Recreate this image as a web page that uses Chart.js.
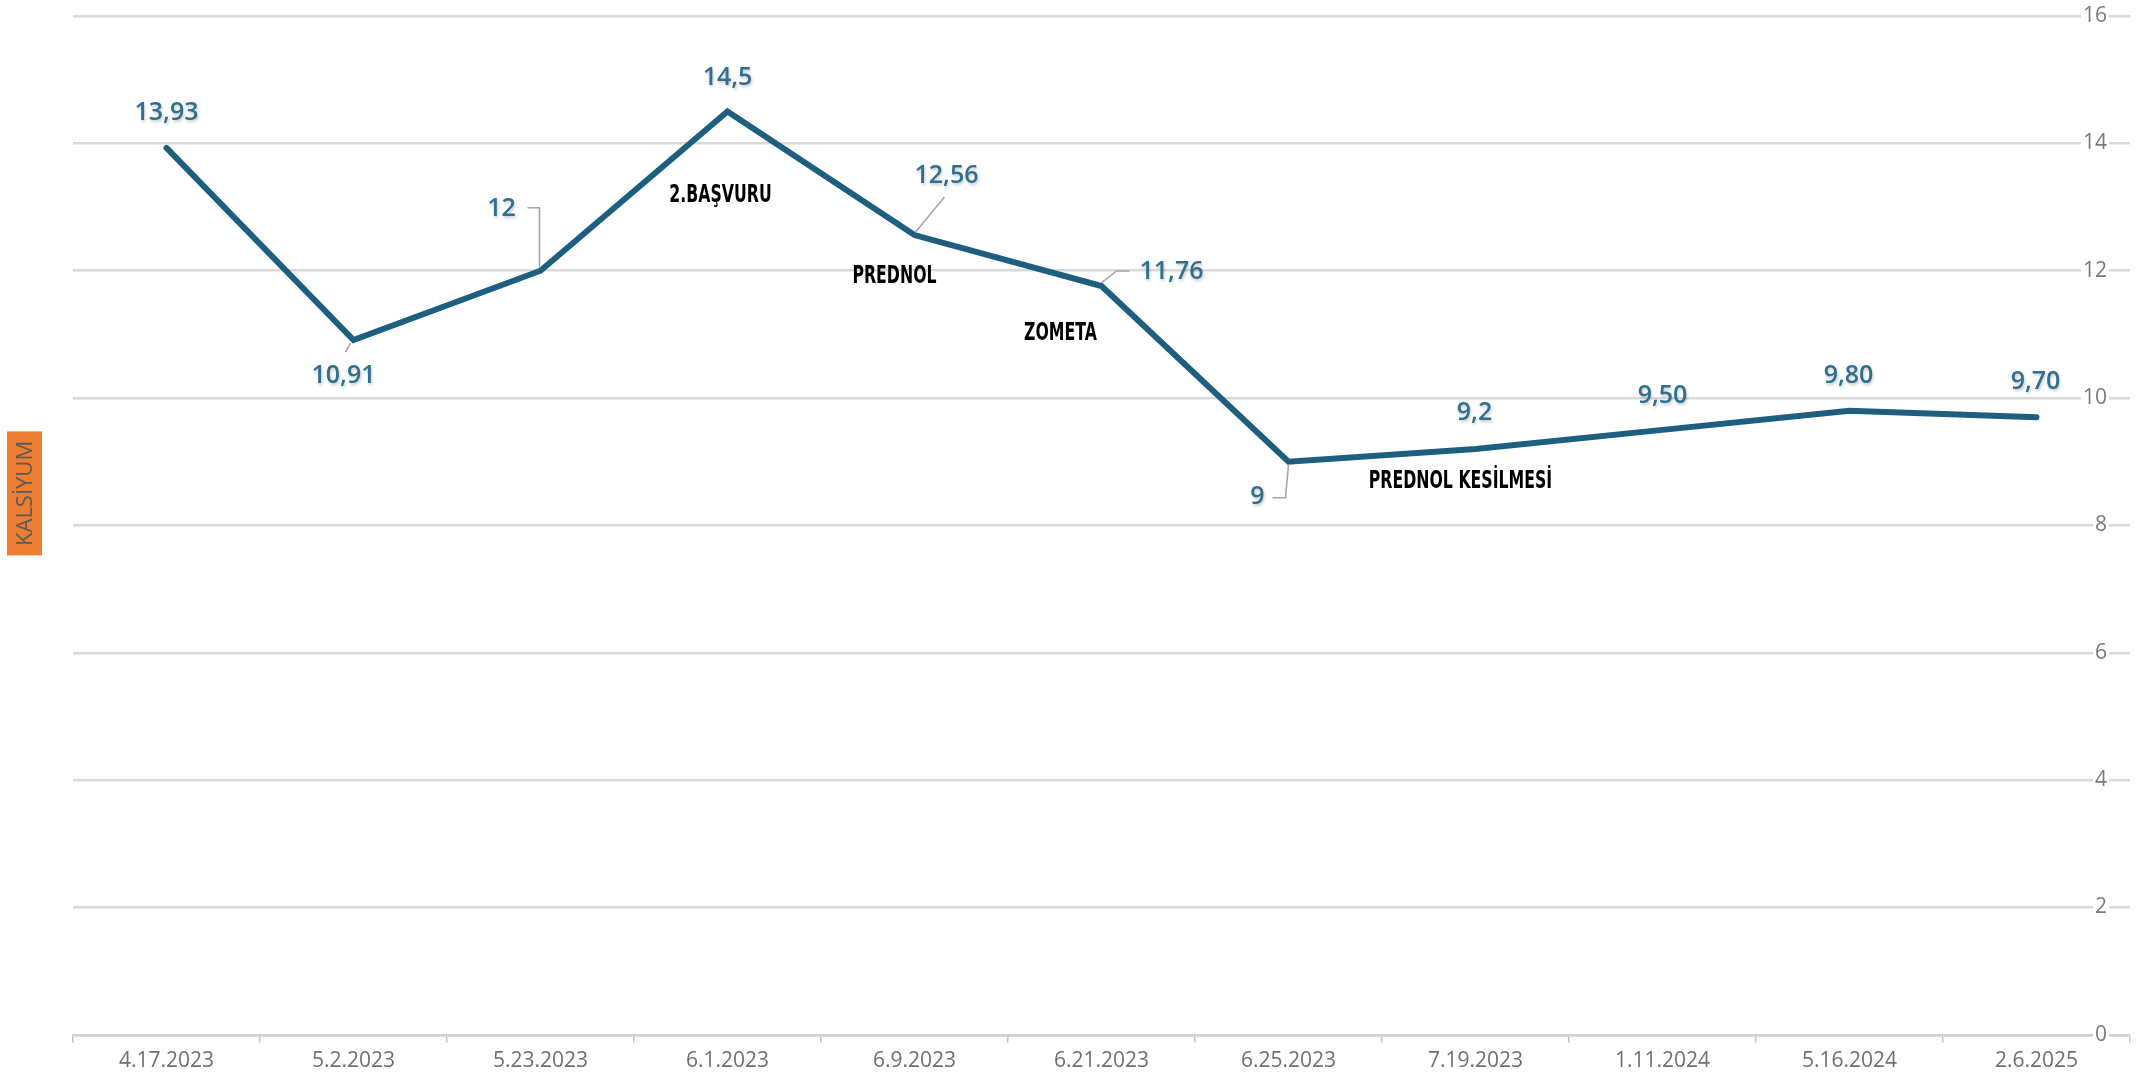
<!DOCTYPE html>
<html>
<head>
<meta charset="utf-8">
<script src="https://cdn.jsdelivr.net/npm/chart.js@4.4.1/dist/chart.umd.min.js"></script>
<style>
  html, body { margin: 0; padding: 0; background: #fff; }
  canvas { display: block; }
</style>
</head>
<body>
<canvas id="calciumChart" width="2144" height="1085"></canvas>
<script>
// ---------- Data ----------
const dates = ['4.17.2023', '5.2.2023', '5.23.2023', '6.1.2023', '6.9.2023', '6.21.2023',
               '6.25.2023', '7.19.2023', '1.11.2024', '5.16.2024', '2.6.2025'];
const calcium = [13.93, 10.91, 12, 14.5, 12.56, 11.76, 9, 9.2, 9.5, 9.8, 9.7];
const valueLabels = ['13,93', '10,91', '12', '14,5', '12,56', '11,76', '9', '9,2', '9,50', '9,80', '9,70'];
const notes = ['', '', '', '2.BAŞVURU', 'PREDNOL', 'ZOMETA', '', 'PREDNOL KESİLMESİ', '', '', ''];
const axisTitle = 'KALSİYUM';
const yMin = 0, yMax = 16, yStep = 2;

// ---------- Placement of the labels (pixels, relative to each point) ----------
const labelPos = [
  { d: [0, -35] },
  { d: [-10, 36], lead: [[-3, 3], [-8, 12]] },
  { d: [-39, -62], lead: [[-13, -63], [-1, -63], [-1, -3]] },
  { d: [0, -34] },
  { d: [32, -59], lead: [[1, -3], [30, -38]] },
  { d: [70, -14], lead: [[0, -3], [15, -15], [28, -15]] },
  { d: [-31, 35], lead: [[-16, 36], [-3, 36], [0, 3]] },
  { d: [-1, -36] },
  { d: [0, -34] },
  { d: [-1, -35] },
  { d: [-1, -35] }
];
const notePos = { 3: [-7, 84], 4: [-20, 41], 5: [-41, 48], 7: [-15, 33] };

const palette = {
  line: '#1e5f7f',
  label: '#2f6f90',
  grid: '#d9d9d9',
  tick: '#7a7a7a',
  leader: '#a6a6a6',
  badge: '#ed7d31',
  badgeText: '#5a5a5a'
};

// ---------- Plugins ----------
const labelsPlugin = {
  id: 'pointLabels',
  afterDatasetsDraw(chart) {
    const ctx = chart.ctx;
    const pts = chart.getDatasetMeta(0).data;
    ctx.save();

    // leader lines
    ctx.strokeStyle = palette.leader;
    ctx.lineWidth = 1.6;
    pts.forEach((p, i) => {
      const lead = labelPos[i].lead;
      if (!lead) return;
      ctx.beginPath();
      lead.forEach(([dx, dy], k) => {
        if (k) ctx.lineTo(p.x + dx, p.y + dy); else ctx.moveTo(p.x + dx, p.y + dy);
      });
      ctx.stroke();
    });

    // value labels
    ctx.textAlign = 'center';
    ctx.textBaseline = 'middle';
    ctx.font = '600 25px "Open Sans", sans-serif';
    ctx.fillStyle = palette.label;
    ctx.shadowColor = 'rgba(0,0,0,.22)';
    ctx.shadowBlur = 3;
    ctx.shadowOffsetX = 1;
    ctx.shadowOffsetY = 2;
    pts.forEach((p, i) => {
      const [dx, dy] = labelPos[i].d;
      ctx.fillText(valueLabels[i], p.x + dx, p.y + dy);
    });

    // event notes (narrow bold lettering)
    ctx.shadowColor = 'transparent';
    ctx.fillStyle = '#000';
    ctx.font = 'bold 25px "DejaVu Sans", sans-serif';
    pts.forEach((p, i) => {
      if (!notes[i]) return;
      const [dx, dy] = notePos[i];
      ctx.save();
      ctx.translate(p.x + dx, p.y + dy);
      ctx.scale(0.63, 1);
      ctx.fillText(notes[i], 0, 0);
      ctx.restore();
    });
    ctx.restore();
  },
  afterDraw(chart) {
    // orange axis badge on the left
    const ctx = chart.ctx;
    const a = chart.chartArea;
    const cy = (a.top + a.bottom) / 2 - 32;
    ctx.save();
    ctx.fillStyle = palette.badge;
    ctx.fillRect(7, cy - 62, 35, 124);
    ctx.translate(25, cy);
    ctx.rotate(-Math.PI / 2);
    ctx.fillStyle = palette.badgeText;
    ctx.font = '22px "Open Sans", sans-serif';
    ctx.textAlign = 'center';
    ctx.textBaseline = 'middle';
    ctx.fillText(axisTitle, 0, 1);
    ctx.restore();
  }
};

// ---------- Chart ----------
Chart.defaults.font.family = '"Open Sans", sans-serif';

new Chart(document.getElementById('calciumChart'), {
  type: 'line',
  data: {
    labels: dates,
    datasets: [{
      label: axisTitle,
      data: calcium,
      borderColor: palette.line,
      borderWidth: 6,
      borderCapStyle: 'round',
      pointRadius: 0,
      pointHoverRadius: 0,
      tension: 0,
      fill: false
    }]
  },
  options: {
    responsive: false,
    animation: false,
    devicePixelRatio: 1,
    layout: { padding: { left: 73, right: 14, top: 16, bottom: 5 } },
    plugins: { legend: { display: false }, tooltip: { enabled: false } },
    scales: {
      x: {
        offset: true,
        grid: { offset: true, drawOnChartArea: false, drawTicks: true, tickLength: 8, color: '#c4c4c4', lineWidth: 1.5 },
        border: { color: '#d0d0d0', width: 2.5 },
        ticks: { color: '#707070', font: { size: 21 }, padding: 6, maxRotation: 0, autoSkip: false }
      },
      y: {
        position: 'right',
        min: yMin,
        max: yMax,
        grid: { color: palette.grid, lineWidth: 2.5, drawTicks: false },
        border: { display: false },
        ticks: {
          stepSize: yStep,
          mirror: true,
          padding: -23,
          color: palette.tick,
          font: { size: 21 },
          showLabelBackdrop: true,
          backdropColor: '#fff',
          backdropPadding: { x: 2, y: 0 }
        }
      }
    }
  },
  plugins: [labelsPlugin]
});
</script>
</body>
</html>
